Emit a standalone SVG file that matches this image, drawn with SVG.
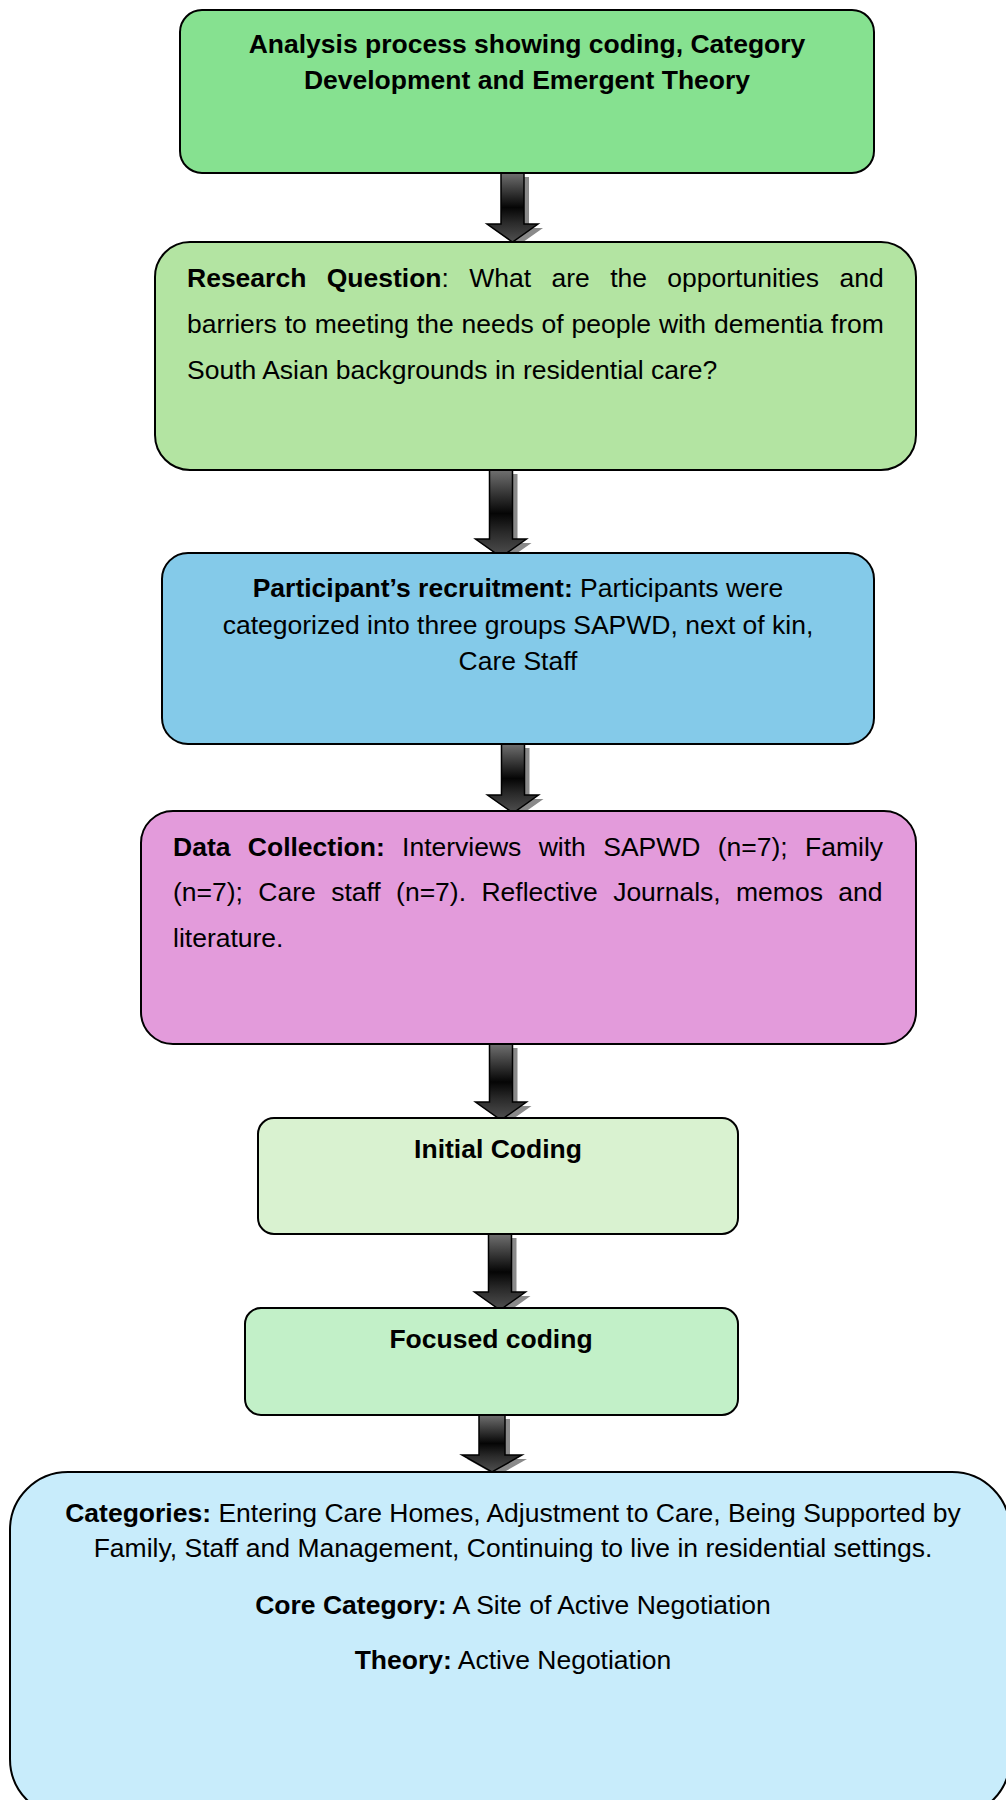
<svg xmlns="http://www.w3.org/2000/svg" width="1006" height="1800" viewBox="0 0 1006 1800">
<style>
text{font-family:"Liberation Sans",Arial,sans-serif;font-size:26.5px;fill:#000}
.b{font-weight:bold}
.box{stroke:#000;stroke-width:2}
.c{text-anchor:middle}
.arr{fill:url(#ag);stroke:#000;stroke-width:1.5}
.sh{fill:#8a8a8a}
</style>
<defs>
<linearGradient id="ag" x1="0" y1="0" x2="0" y2="1">
<stop offset="0" stop-color="#707070"/>
<stop offset="0.5" stop-color="#050505"/>
<stop offset="0.72" stop-color="#2a2a2a"/>
<stop offset="1" stop-color="#505050"/>
</linearGradient>
</defs>
<rect width="1006" height="1800" fill="#fff"/>

<g id="connectors">
<g id="a1"><path class="sh" d="M506,177 h23 v51 h14 l-25.5,18 l-25.5,-18 h14 z"/><path class="arr" d="M501,173 h23 v51 h14 l-25.5,18 l-25.5,-18 h14 z"/></g>
<g id="a2"><path class="sh" d="M494.5,474 h23 v69 h14 l-25.5,18 l-25.5,-18 h14 z"/><path class="arr" d="M489.5,470 h23 v69 h14 l-25.5,18 l-25.5,-18 h14 z"/></g>
<g id="a3"><path class="sh" d="M506.5,748 h23 v51 h14 l-25.5,18 l-25.5,-18 h14 z"/><path class="arr" d="M501.5,744 h23 v51 h14 l-25.5,18 l-25.5,-18 h14 z"/></g>
<g id="a4"><path class="sh" d="M494.5,1048 h23 v58 h14 l-25.5,18 l-25.5,-18 h14 z"/><path class="arr" d="M489.5,1044 h23 v58 h14 l-25.5,18 l-25.5,-18 h14 z"/></g>
<g id="a5"><path class="sh" d="M493.5,1238 h23 v58 h14 l-25.5,18 l-25.5,-18 h14 z"/><path class="arr" d="M488.5,1234 h23 v58 h14 l-25.5,18 l-25.5,-18 h14 z"/></g>
<g id="a6"><path class="sh" d="M484,1419 h26 v40 h17 l-30,17 l-30,-17 h17 z"/><path class="arr" d="M479,1415 h26 v40 h17 l-30,17 l-30,-17 h17 z"/></g>
</g>

<g id="n1">
<rect class="box" x="180" y="10" width="694" height="163" rx="22" fill="#86E190"/>
<text class="b c" x="527" y="53">Analysis process showing coding, Category</text>
<text class="b c" x="527" y="89">Development and Emergent Theory</text>
</g>

<g id="n2">
<rect class="box" x="155" y="242" width="761" height="228" rx="35" fill="#B3E4A2"/>
<text x="187" y="287" word-spacing="13"><tspan class="b">Research Question</tspan>: What are the opportunities and</text>
<text x="187" y="333" word-spacing="0.5">barriers to meeting the needs of people with dementia from</text>
<text x="187" y="379">South Asian backgrounds in residential care?</text>
</g>

<g id="n3">
<rect class="box" x="162" y="553" width="712" height="191" rx="26" fill="#84CAE9"/>
<text class="c" x="518" y="597"><tspan class="b">Participant’s recruitment:</tspan> Participants were</text>
<text class="c" x="518" y="634">categorized into three groups SAPWD, next of kin,</text>
<text class="c" x="518" y="670">Care Staff</text>
</g>

<g id="n4">
<rect class="box" x="141" y="811" width="775" height="233" rx="32" fill="#E39BDB"/>
<text x="173" y="856" word-spacing="10"><tspan class="b">Data Collection:</tspan> Interviews with SAPWD (n=7); Family</text>
<text x="173" y="901" word-spacing="8">(n=7); Care staff (n=7). Reflective Journals, memos and</text>
<text x="173" y="947">literature.</text>
</g>

<g id="n5">
<rect class="box" x="258" y="1118" width="480" height="116" rx="16" fill="#D9F2D0"/>
<text class="b c" x="498" y="1158">Initial Coding</text>
</g>

<g id="n6">
<rect class="box" x="245" y="1308" width="493" height="107" rx="16" fill="#C2F0C8"/>
<text class="b c" x="491" y="1348">Focused coding</text>
</g>

<g id="n7">
<rect class="box" x="10" y="1472" width="1000" height="345" rx="58" fill="#C8ECFB"/>
<text class="c" x="513" y="1522"><tspan class="b">Categories:</tspan> Entering Care Homes, Adjustment to Care, Being Supported by</text>
<text class="c" x="513" y="1557">Family, Staff and Management, Continuing to live in residential settings.</text>
<text class="c" x="513" y="1614"><tspan class="b">Core Category:</tspan> A Site of Active Negotiation</text>
<text class="c" x="513" y="1669"><tspan class="b">Theory:</tspan> Active Negotiation</text>
</g>
</svg>
